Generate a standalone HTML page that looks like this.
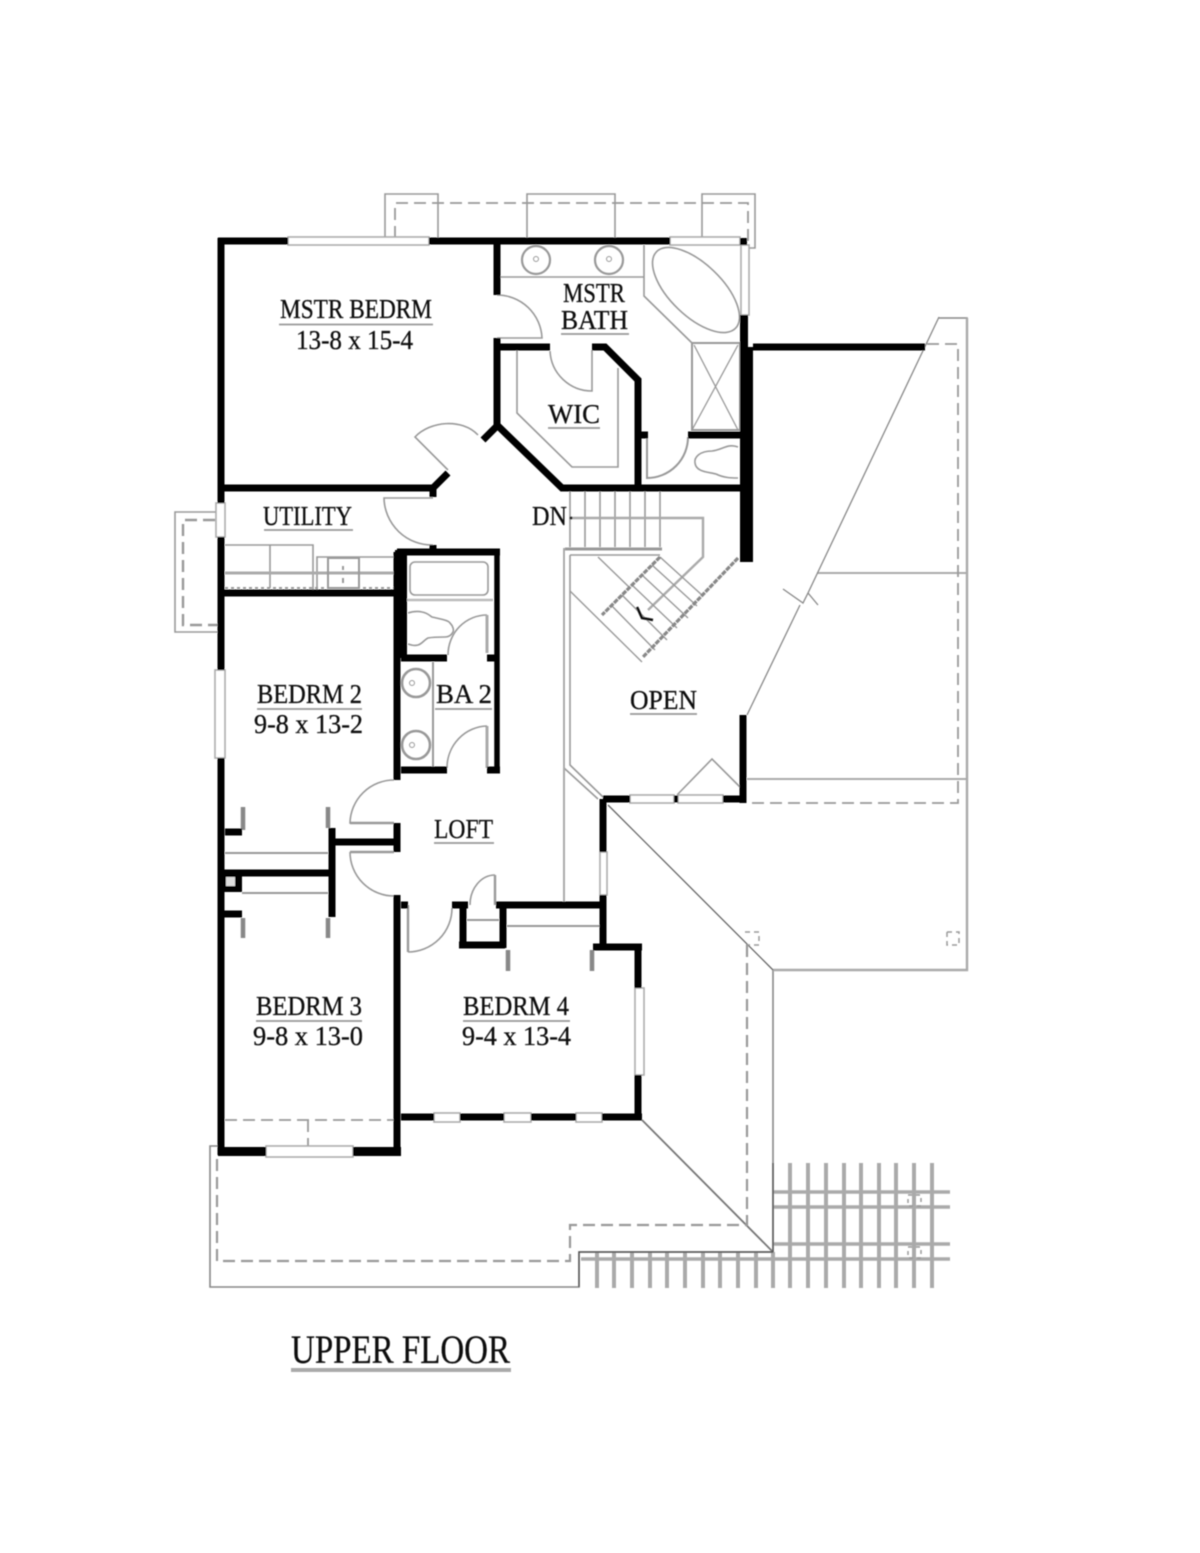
<!DOCTYPE html>
<html>
<head>
<meta charset="utf-8">
<style>
html,body{margin:0;padding:0;background:#fff;width:1200px;height:1553px;overflow:hidden}
svg{display:block}
text{font-family:"Liberation Serif",serif;fill:#111;stroke:#111;stroke-width:.3}
</style>
</head>
<body>
<svg width="1200" height="1553" viewBox="0 0 1200 1553" xmlns="http://www.w3.org/2000/svg">
<defs><filter id="b" x="-2%" y="-2%" width="104%" height="104%"><feGaussianBlur stdDeviation="0.55"/></filter></defs>
<rect width="1200" height="1553" fill="#fff"/>
<g filter="url(#b)">
<!-- pergola -->
<g stroke="#aaa" stroke-width="4" fill="none">
<path d="M790 1163V1288M808 1163V1288M826 1163V1288M844 1163V1288M861 1163V1288M879 1163V1288M896 1163V1288M914 1163V1288M932 1163V1288"/>
<path d="M597 1252V1288M614 1252V1288M632 1252V1288M650 1252V1288M667 1252V1288M685 1252V1288M703 1252V1288M720 1252V1288M738 1252V1288M756 1252V1288M773 1252V1288"/>
<path stroke-width="3.5" d="M773 1192H950M773 1207H950M773 1244H950M581 1259H950"/>
</g>
<!-- roof outlines -->
<g fill="none" stroke="#999" stroke-width="1.6">
<path d="M385 238V194H438V238M527 238V194H615V238M702 238V194H755V248H748"/>
<path d="M218 512H175V632H218"/>
<path stroke="#888" d="M218 1146H210V1287H579V1252H773V970H967V318H939"/>
<path stroke="#aaa" stroke-width="2.4" d="M773 970H967V318"/>
<path stroke-width="2" stroke="#aaa" d="M817 573H967M747 779H967"/>
<path stroke="#888" stroke-width="1.3" d="M939 317L808 593L803 603L783 589M808 593L818 605M800 605L747 715"/>
<path stroke="#666" stroke-width="1.3" d="M608 805L773 970"/>
<path stroke="#777" stroke-width="1.8" d="M642 1120L773 1252"/>
<path stroke="#555" stroke-width="1.4" d="M773 1163V1252M579 1287V1252H773"/>
</g>
<g fill="none" stroke="#999" stroke-width="1.8" stroke-dasharray="12 6">
<path d="M395 238V203H748V246"/>
<path stroke-width="2.4" d="M215 520H183V625H218"/>
<path d="M927 344H958V803H747"/>
<path stroke-width="2.2" d="M747 945V1225H570V1261H217V1155"/>
<path d="M225 1120H394M308 1120V1148"/>
<path stroke-width="1.5" stroke-dasharray="5 4" d="M745 932H759V945H746M947 932H959V945H947V932"/>
<path stroke-width="1.5" stroke-dasharray="4 4" d="M908 1195H921V1206H908ZM908 1247H921V1258H908Z"/>
</g>
<!-- interior gray lines -->
<g fill="none" stroke="#999" stroke-width="1.6">
<!-- utility -->
<path d="M225 545H313V590M270 545V588M317 590V557H394"/>
<path stroke-width="3" stroke="#aaa" d="M225 573H394"/>
<path stroke-dasharray="3 3" stroke-width="2" d="M225 588H394"/>
<rect x="328" y="558" width="31" height="30" stroke-width="2"/>
<path d="M343 566V570M343 578V583" stroke-width="2"/>
<!-- doors -->
<path d="M433 545A48 48 0 0 1 384 498H433"/>
<path d="M448 470L415 437C430 421 462 418 478 435"/>
<path d="M497 295A45 45 0 0 1 542 338H497"/>
<path d="M550 351A42 42 0 0 0 592 391V350"/>
<path stroke-width="2" d="M647 438V478A41 41 0 0 0 688 437"/>
<path d="M394 780A44 44 0 0 0 350 823H394M350 852A44 44 0 0 0 394 896"/>
<path stroke-width="2.4" d="M350 823H394M350 852H394"/>
<path d="M408 952A44 44 0 0 0 452 908"/>
<path stroke-width="2.4" d="M408 905V952"/>
<path d="M470 905A25 30 0 0 1 495 875"/>
<path stroke-width="2.4" d="M495 875V905"/>
<path d="M448 655A39 40 0 0 1 487 615"/>
<path stroke-width="3" stroke="#aaa" d="M487 615V653M487 726V768"/>
<path d="M447 768A41 42 0 0 1 487 726"/>
<path d="M677 795L712 759L740 787"/>
<!-- master bath -->
<path d="M500 277H644M644 245V296L692 343"/>
<ellipse cx="696" cy="290" rx="55" ry="26" transform="rotate(44 696 290)"/>
<circle cx="536" cy="260" r="14" stroke-width="2.2"/><circle cx="536" cy="259" r="2.500" stroke-width="1"/>
<circle cx="609" cy="260" r="14" stroke-width="2.2"/><circle cx="609" cy="259" r="2.500" stroke-width="1"/>
<rect x="692" y="343" width="48" height="87" stroke-width="2"/>
<path d="M692 430L738 345M694 345L738 430" stroke-width="1.3"/>
<path d="M738 447C728 443 722 450 712 451C700 451 694 457 695 463C696 472 708 472 716 474C724 478 732 478 738 478"/>
<path d="M517 350V413L572 467H618V368"/>
<!-- bath 2 -->
<rect x="410" y="562" width="78" height="33" rx="5"/>
<path stroke="#bbb" stroke-width="2.4" d="M405 600H493"/>
<path d="M408 613C414 611 418 611 422 612C428 613 430 616 432 617C440 619 448 620 450 623C453 626 454 630 453 632C451 636 448 637 445 637C438 637 433 637 428 638C424 640 422 644 418 645C414 646 411 645 408 644"/>
<path d="M433 662V767" stroke-width="2"/>
<circle cx="416" cy="683" r="14" stroke-width="2.600"/><circle cx="412" cy="683" r="2.500" stroke-width="1"/>
<circle cx="416" cy="745" r="14" stroke-width="2.600"/><circle cx="412" cy="745" r="2.500" stroke-width="1"/>
<!-- closets -->
<path stroke-width="2" d="M225 853H328M242 893H328M467 920H499M507 926H600"/>
<path stroke="#888" stroke-width="4.500" d="M243 807V830M328 807V828M243 918V938M328 918V938M508 950V971M592 950V971"/>
<!-- stairs -->
<path d="M570 490V547M585 490V547M600 490V547M615 490V547M630 490V547M645 490V547M660 490V547"/>
<path stroke="#aaa" stroke-width="2.400" d="M572 518H703V557L648 610"/>
<path stroke-width="3" d="M565 549H662"/>
<path d="M570 555H660"/>
<path d="M564 548V768L598 799M570 555V765L603 797"/>
<path d="M564 768V905" stroke="#aaa" stroke-width="2"/>
<path stroke-width="1.400" d="M598 557L630 588M570 591L642 662M612 606L655 650M622 595L667 640M632 585L677 628M642 575L688 618M652 565L697 606M660 557L703 596"/>
<path stroke="#888" stroke-width="3.200" stroke-dasharray="5 1" d="M660 557L602 615"/>
<path stroke="#888" stroke-width="3.200" stroke-dasharray="5 1" d="M738 558L643 657"/>
</g>
<path d="M637 607L642 618L653 620" fill="none" stroke="#111" stroke-width="2.600"/>
<circle cx="571" cy="518" r="1.500" fill="#222"/>
<!-- windows -->
<g fill="#fff" stroke="#aaa" stroke-width="1.600">
<rect x="288" y="237" width="141" height="8"/>
<rect x="670" y="237" width="70" height="8"/>
<rect x="741" y="245" width="8" height="70"/>
<rect x="216" y="503" width="9" height="34"/>
<rect x="215" y="670" width="10" height="88"/>
<rect x="266" y="1146" width="87" height="11"/>
<rect x="600" y="852" width="7" height="43"/>
<rect x="635" y="988" width="9" height="87"/>
<rect x="630" y="795" width="44" height="8"/>
<rect x="678" y="795" width="45" height="8"/>
<rect x="434" y="1113" width="26" height="9"/>
<rect x="504" y="1113" width="27" height="9"/>
<rect x="576" y="1113" width="26" height="9"/>
</g>
<!-- walls -->
<g fill="none" stroke="#000" stroke-width="7">
<path d="M218 241H288M429 241H670"/>
<path d="M221 238V503M221 537V670M221 758V1155"/>
<path d="M497 241V295M497 338V425L562 488H740"/>
<path d="M497 347H550M592 347H605L638 380V488"/>
<path d="M498 425L483 440"/>
<path d="M222 488H433L448 473M433 488V497"/>
<path d="M753 347H925M688 435H740M640 435H648"/>
<path d="M433 545V552"/>
<path d="M397 552H500"/>
<path d="M222 593H394"/>
<path d="M401 658H447M487 658H495M401 770H447M487 770H500"/>
<path stroke-width="5.500" d="M497 552V773"/>
<path d="M225 832H242M332 828V917M332 842H394M222 873H332M222 914H242"/>
<path d="M397 823V852M397 895V1155M397 552V780"/>
<path d="M401 905H408M452 905H468M463 905V948M459 945H505M503 905V948M496 905H604"/>
<path d="M603 799V852M603 895V947M593 947H642"/>
<path d="M603 799H630M674 799H678M723 799H746M743 715V803"/>
<path d="M638 947V988M638 1075V1120M401 1117H434M460 1117H504M531 1117H576M602 1117H642"/>
</g>
<g fill="#000">
<rect x="740" y="315" width="8" height="175"/>
<rect x="740" y="347" width="13" height="215"/>
<rect x="740" y="238" width="7" height="7"/>
<rect x="395" y="550" width="12" height="108"/>
<rect x="218" y="1147" width="48" height="9"/>
<rect x="353" y="1147" width="48" height="9"/>
<rect x="222" y="870" width="20" height="22"/>
<rect x="226" y="877" width="9" height="9" fill="#ddd"/>
</g>
<!-- text -->
<g font-size="27">
<text x="280" y="318" textLength="152" lengthAdjust="spacingAndGlyphs">MSTR BEDRM</text>
<text x="296" y="349" textLength="117" lengthAdjust="spacingAndGlyphs">13-8 x 15-4</text>
<text x="563" y="302" textLength="62" lengthAdjust="spacingAndGlyphs">MSTR</text>
<text x="561" y="329" textLength="67" lengthAdjust="spacingAndGlyphs">BATH</text>
<text x="548" y="423" textLength="52" lengthAdjust="spacingAndGlyphs">WIC</text>
<text x="263" y="525" textLength="89" lengthAdjust="spacingAndGlyphs">UTILITY</text>
<text x="532" y="525" textLength="35" lengthAdjust="spacingAndGlyphs">DN</text>
<text x="257" y="703" textLength="105" lengthAdjust="spacingAndGlyphs">BEDRM 2</text>
<text x="254" y="733" textLength="109" lengthAdjust="spacingAndGlyphs">9-8 x 13-2</text>
<text x="436" y="703" textLength="56" lengthAdjust="spacingAndGlyphs">BA 2</text>
<text x="434" y="838" textLength="59" lengthAdjust="spacingAndGlyphs">LOFT</text>
<text x="630" y="709" textLength="67" lengthAdjust="spacingAndGlyphs">OPEN</text>
<text x="256" y="1015" textLength="106" lengthAdjust="spacingAndGlyphs">BEDRM 3</text>
<text x="253" y="1045" textLength="110" lengthAdjust="spacingAndGlyphs">9-8 x 13-0</text>
<text x="463" y="1015" textLength="106" lengthAdjust="spacingAndGlyphs">BEDRM 4</text>
<text x="462" y="1045" textLength="109" lengthAdjust="spacingAndGlyphs">9-4 x 13-4</text>
<text x="291" y="1363" font-size="40" textLength="219" lengthAdjust="spacingAndGlyphs">UPPER FLOOR</text>
</g>
<g stroke="#999" stroke-width="1.800" fill="none">
<path d="M279 324.500H433M561 334H629M548 428H600M264 530H353M257 709H362M435 709H492M434 843H494M630 714H697M256 1021H362M463 1021H570"/>
<path d="M291 1370H511" stroke="#aaa" stroke-width="4"/>
</g>
</g>
</svg>
</body>
</html>
